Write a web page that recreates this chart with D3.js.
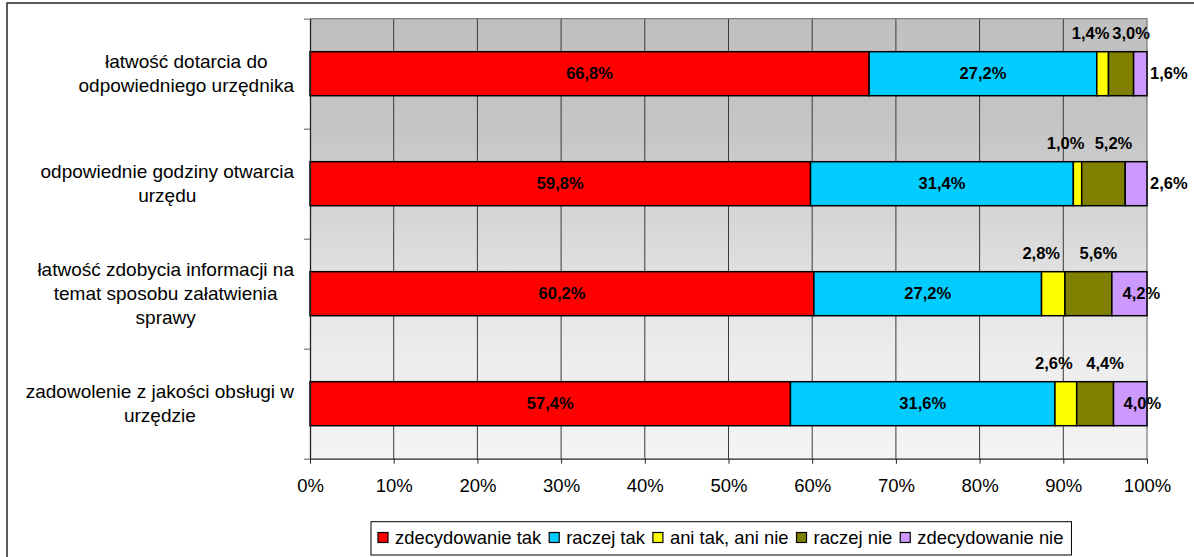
<!DOCTYPE html>
<html lang="pl">
<head>
<meta charset="utf-8">
<script src="https://cdn.jsdelivr.net/npm/d3@7"></script>
<style>
  html, body { margin: 0; padding: 0; background: #ffffff; }
  svg { display: block; font-family: Arial, "Liberation Sans", sans-serif; }
</style>
</head>
<body>
<svg id="chart" width="1194" height="557"></svg>
<script>
// Categories (one horizontal bar each) and their wrapped label lines
const categories = [
  "łatwość dotarcia do odpowiedniego urzędnika",
  "odpowiednie godziny otwarcia urzędu",
  "łatwość zdobycia informacji na temat sposobu załatwienia sprawy",
  "zadowolenie z jakości obsługi w urzędzie"
];
const categoryLines = [
  ["łatwość dotarcia do", "odpowiedniego urzędnika"],
  ["odpowiednie godziny otwarcia", "urzędu"],
  ["łatwość zdobycia informacji na", "temat sposobu załatwienia", "sprawy"],
  ["zadowolenie z jakości obsługi w", "urzędzie"]
];

// Answer series, in stacking order
const seriesNames = ["zdecydowanie tak", "raczej tak", "ani tak, ani nie", "raczej nie", "zdecydowanie nie"];
const zdecydowanieTak = [66.8, 59.8, 60.2, 57.4];
const raczejTak       = [27.2, 31.4, 27.2, 31.6];
const aniTakAniNie    = [1.4, 1.0, 2.8, 2.6];
const raczejNie       = [3.0, 5.2, 5.6, 4.4];
const zdecydowanieNie = [1.6, 2.6, 4.2, 4.0];
const seriesColors = ["#ff0000", "#00ccff", "#ffff00", "#808000", "#cc99ff"];

// Axis ticks (percent)
const xTicks = [0, 10, 20, 30, 40, 50, 60, 70, 80, 90, 100];

const seriesValues = [zdecydowanieTak, raczejTak, aniTakAniNie, raczejNie, zdecydowanieNie];
const rows = categories.map((c, i) => {
  const r = { category: c };
  seriesNames.forEach((s, k) => { r[s] = seriesValues[k][i]; });
  return r;
});
const stacked = d3.stack().keys(seriesNames)(rows);

const svg = d3.select("#chart");
const plot = { left: 310, right: 1147, top: 18.7, bottom: 458.7 };

const x = d3.scaleLinear().domain([0, 100]).range([plot.left, plot.right]);
const y = d3.scaleBand().domain(categories)
  .range([plot.top, plot.bottom]).paddingInner(0.6).paddingOuter(0.3);

// Outer chart frame
svg.append("rect")
  .attr("x", 7).attr("y", 3).attr("width", 1240).attr("height", 640)
  .attr("fill", "none").attr("stroke", "#333").attr("stroke-width", 1.6);

// Plot background: grey gradient, darker at the top
const defs = svg.append("defs");
const grad = defs.append("linearGradient").attr("id", "plotBg")
  .attr("x1", 0).attr("y1", 0).attr("x2", 0).attr("y2", 1);
[[0, "#c0c0c0"], [0.25, "#c5c5c5"], [0.5, "#dadada"], [0.75, "#ececec"], [1, "#f4f4f4"]]
  .forEach(([o, c]) => grad.append("stop").attr("offset", o).attr("stop-color", c));

svg.append("rect")
  .attr("x", plot.left).attr("y", plot.top)
  .attr("width", plot.right - plot.left).attr("height", plot.bottom - plot.top)
  .attr("fill", "url(#plotBg)");

// Vertical gridlines
svg.append("g").selectAll("line")
  .data(xTicks.filter(t => t > 0 && t < 100))
  .join("line")
  .attr("x1", d => x(d)).attr("x2", d => x(d))
  .attr("y1", plot.top).attr("y2", plot.bottom)
  .attr("stroke", "#3a3a3a").attr("stroke-width", 1);

// Plot area top and right edges
svg.append("path")
  .attr("d", `M${plot.left},${plot.top}H${plot.right}V${plot.bottom}`)
  .attr("fill", "none").attr("stroke", "#808080").attr("stroke-width", 1.3);

// Stacked bars
svg.append("g").selectAll("g")
  .data(stacked)
  .join("g")
  .attr("fill", (d, i) => seriesColors[i])
  .selectAll("rect")
  .data(d => d)
  .join("rect")
  .attr("x", d => x(d[0]))
  .attr("width", d => x(d[1]) - x(d[0]))
  .attr("y", d => y(d.data.category))
  .attr("height", y.bandwidth())
  .attr("stroke", "#000").attr("stroke-width", 1.5);

// X axis
const xAxis = svg.append("g")
  .attr("transform", `translate(0,${plot.bottom})`)
  .call(d3.axisBottom(x).tickValues(xTicks).tickFormat(d => d + "%")
    .tickSize(5).tickSizeOuter(0).tickPadding(15));
xAxis.select(".domain").attr("stroke", "#222").attr("stroke-width", 1.3);
xAxis.selectAll(".tick line").attr("stroke", "#222");
xAxis.selectAll("text").attr("font-size", 18.5).attr("fill", "#000")
  .attr("font-family", "Arial, 'Liberation Sans', sans-serif");

// Y axis: line with ticks at category boundaries
const yEdge = d3.scaleLinear().domain([0, categories.length]).range([plot.top, plot.bottom]);
const yAxis = svg.append("g")
  .attr("transform", `translate(${plot.left},0)`)
  .call(d3.axisLeft(yEdge).ticks(categories.length).tickFormat("")
    .tickSize(6).tickSizeOuter(0));
yAxis.select(".domain").attr("stroke", "#222").attr("stroke-width", 1.3);
yAxis.selectAll(".tick line").attr("stroke", "#808080").attr("stroke-width", 1.3);

// Category labels: lines centred within a block right-aligned to the axis
const catG = svg.append("g").attr("font-size", 19).attr("fill", "#000");
const lineH = 24;
categories.forEach((c, i) => {
  const lines = categoryLines[i];
  const cy = y(c) + y.bandwidth() / 2;
  const g = catG.append("g");
  const texts = g.selectAll("text").data(lines).join("text")
    .attr("text-anchor", "middle")
    .attr("y", (d, j) => cy + (j - (lines.length - 1) / 2) * lineH)
    .attr("dy", "0.35em")
    .text(d => d);
  let maxW = 0;
  texts.each(function () { maxW = Math.max(maxW, this.getComputedTextLength()); });
  texts.attr("x", 294 - maxW / 2);
});

// Value labels
const labelG = svg.append("g").attr("font-size", 16.5).attr("font-weight", "bold").attr("fill", "#000");
stacked.forEach((s, k) => {
  s.forEach(d => {
    const x0 = x(d[0]), x1 = x(d[1]);
    const w = x1 - x0;
    const mid = (x0 + x1) / 2;
    const top = y(d.data.category);
    const txt = d3.format(".1f")(d[1] - d[0]).replace(".", ",") + "%";
    let tx, ty, anchor = "middle";
    if (k <= 1) { tx = mid; ty = top + y.bandwidth() / 2; }
    else if (k === 2) { tx = mid - 12; ty = top - 18; }
    else if (k === 3) { tx = mid + 10; ty = top - 18; }
    else if (w < 30) { tx = x1 + 3; ty = top + y.bandwidth() / 2; anchor = "start"; }
    else { tx = mid + 12; ty = top + y.bandwidth() / 2; }
    labelG.append("text")
      .attr("x", tx).attr("y", ty).attr("dy", "0.35em")
      .attr("text-anchor", anchor).text(txt);
  });
});

// Legend
const legend = svg.append("g").attr("font-size", 18.4);
const legendBox = legend.append("rect")
  .attr("y", 521.7).attr("height", 33.3)
  .attr("fill", "#fff").attr("stroke", "#000").attr("stroke-width", 1);
let lx = 378;
seriesNames.forEach((name, i) => {
  const it = legend.append("g");
  it.append("rect").attr("x", lx).attr("y", 532.5).attr("width", 10).attr("height", 10)
    .attr("fill", seriesColors[i]).attr("stroke", "#000").attr("stroke-width", 1.2);
  const t = it.append("text").attr("x", lx + 17).attr("y", 538).attr("dy", "0.35em").text(name);
  lx += 17 + t.node().getComputedTextLength() + 8;
});
legendBox.attr("x", 371).attr("width", lx - 371);
</script>
</body>
</html>
